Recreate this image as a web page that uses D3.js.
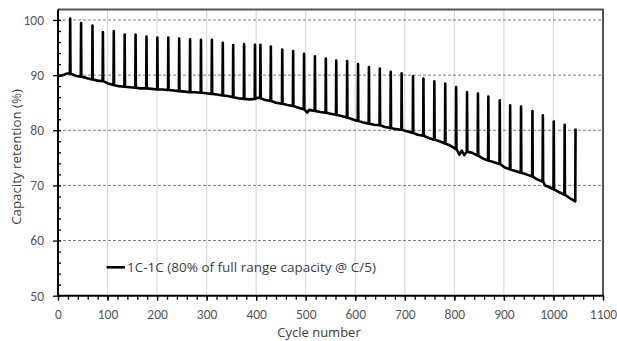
<!DOCTYPE html>
<html>
<head>
<meta charset="utf-8">
<script src="https://cdn.jsdelivr.net/npm/d3@7"></script>
<style>
  body { margin: 0; background: #fff; }
  svg { display: block; font-family: Carlito, Lato, sans-serif; }
</style>
</head>
<body>
<svg id="chart" width="617" height="341"></svg>
<script>
// tick labels
var xTicks = [0, 100, 200, 300, 400, 500, 600, 700, 800, 900, 1000, 1100];
var yTicks = [50, 60, 70, 80, 90, 100];

// baseline capacity retention read between check-up cycles
var baseCycle = [0, 10, 18, 24, 35, 46, 57, 69, 80, 90, 101, 112, 123, 134, 145, 156, 167, 178, 189, 200,
  211, 222, 233, 244, 255, 266, 277, 288, 299, 310, 321, 332, 343, 353, 364, 375, 386, 397, 402, 408,
  418, 429, 440, 452, 463, 474, 485, 496, 503, 507, 518, 529, 540, 550, 561, 572, 583, 594, 605, 616,
  627, 638, 649, 660, 671, 682, 693, 704, 716, 726, 737, 748, 759, 770, 781, 792, 803, 810, 815, 820,
  825, 836, 847, 857, 868, 880, 891, 901, 912, 923, 934, 945, 957, 967, 978, 983, 989, 1000, 1011, 1022,
  1033, 1044];
var baseValue = [89.8, 90.0, 90.3, 90.3, 89.9, 89.7, 89.5, 89.2, 89.0, 88.9, 88.5, 88.2, 88.0, 87.9, 87.8, 87.7, 87.6, 87.6, 87.5, 87.4,
  87.4, 87.3, 87.2, 87.1, 87.0, 86.9, 86.9, 86.8, 86.7, 86.6, 86.5, 86.3, 86.2, 86.0, 85.8, 85.7, 85.6, 85.7, 85.9, 85.8,
  85.5, 85.3, 85.0, 84.8, 84.6, 84.4, 84.1, 83.8, 83.2, 83.7, 83.5, 83.3, 83.2, 83.0, 82.8, 82.6, 82.3, 82.0, 81.7, 81.4,
  81.2, 81.0, 80.9, 80.6, 80.4, 80.2, 80.1, 79.8, 79.5, 79.2, 79.0, 78.6, 78.3, 78.0, 77.6, 77.2, 76.6, 75.6, 76.3, 75.5,
  76.1, 75.9, 75.4, 74.9, 74.5, 74.2, 73.9, 73.3, 72.9, 72.6, 72.3, 72.0, 71.6, 71.1, 70.7, 70.0, 69.8, 69.3, 68.8, 68.3,
  67.7, 67.1];

// check-up cycles (full range capacity @ C/5)
var spikeCycle = [24, 46, 69, 90, 112, 134, 156, 178, 200, 222, 244, 266, 288, 310, 332, 353, 375, 397, 408, 429,
  452, 474, 496, 518, 540, 561, 583, 605, 627, 649, 671, 693, 716, 737, 759, 781, 803, 825, 847, 868,
  891, 912, 934, 957, 978, 1000, 1022, 1044];
var spikeTop = [100.25, 99.45, 99.0, 97.8, 98.0, 97.35, 97.35, 97.0, 96.8, 96.8, 96.65, 96.5, 96.4, 96.4, 95.85, 95.45, 95.65, 95.5, 95.5, 95.2,
  94.65, 94.35, 93.85, 93.4, 93.0, 92.65, 92.55, 92.0, 91.45, 91.2, 90.6, 90.35, 89.8, 89.4, 88.9, 88.45, 87.85, 86.95, 86.65, 86.1,
  85.45, 84.55, 84.3, 83.5, 82.7, 81.6, 81.0, 80.3];

var seriesName = "1C-1C (80% of full range capacity @ C/5)";

var svg = d3.select("#chart");
var x = d3.scaleLinear().domain([0, 1100]).range([58, 603]);
var y = d3.scaleLinear().domain([50, 101.9]).range([295.7, 9.5]);

// build the line: baseline points with the check-up spikes inserted
var pts = [];
baseCycle.forEach(function (c, i) {
  pts.push([c, baseValue[i]]);
  var s = spikeCycle.indexOf(c);
  if (s >= 0) {
    pts.push([c + 0.6, spikeTop[s]]);
    if (s < spikeCycle.length - 1) pts.push([c + 1.2, baseValue[i]]);
  }
});

// vertical gridlines
svg.append("g").selectAll("line")
  .data(xTicks.slice(1, -1))
  .enter().append("line")
  .attr("x1", d => x(d)).attr("x2", d => x(d))
  .attr("y1", y(101.9)).attr("y2", y(50))
  .attr("stroke", "#d9d9d9").attr("stroke-width", 1.2);

// horizontal dashed gridlines
svg.append("g").selectAll("line")
  .data(yTicks.slice(1))
  .enter().append("line")
  .attr("x1", x(0)).attr("x2", x(1100))
  .attr("y1", d => y(d)).attr("y2", d => y(d))
  .attr("stroke", "#7f7f7f").attr("stroke-width", 1)
  .attr("stroke-dasharray", "3,2");

// frame top / right
svg.append("path")
  .attr("d", "M" + x(0) + "," + y(101.9) + "H" + x(1100) + "V" + y(50))
  .attr("fill", "none").attr("stroke", "#555").attr("stroke-width", 2);

// series
var line = d3.line().x(d => x(d[0])).y(d => y(d[1]));
svg.append("path")
  .datum(pts)
  .attr("d", line)
  .attr("fill", "none")
  .attr("stroke", "#000")
  .attr("stroke-width", 2.6)
  .attr("stroke-linejoin", "round");

// axes
var fmt = d3.format("d");
var gx = svg.append("g").attr("transform", "translate(0," + y(50) + ")")
  .call(d3.axisBottom(x).tickValues(xTicks).tickFormat(fmt).tickSize(5).tickSizeOuter(0).tickPadding(9));
var gxm = svg.append("g").attr("transform", "translate(0," + y(50) + ")")
  .call(d3.axisBottom(x).tickValues(d3.range(0, 1101, 20)).tickSize(4).tickFormat(""));
var gy = svg.append("g").attr("transform", "translate(" + x(0) + ",0)")
  .call(d3.axisLeft(y).tickValues(yTicks).tickFormat(fmt).tickSize(5).tickSizeOuter(0).tickPadding(9));
var gym = svg.append("g").attr("transform", "translate(" + x(0) + ",0)")
  .call(d3.axisRight(y).tickValues(d3.range(50, 101, 2)).tickSize(3).tickFormat(""));

[gx, gxm, gy, gym].forEach(function (g) {
  g.select(".domain").remove();
  g.selectAll(".tick line").attr("stroke", "#000").attr("stroke-width", 1.3);
  g.selectAll("text").attr("fill", "#595959").attr("font-size", 13.5).attr("font-family", "Carlito, Lato, sans-serif");
});

// axis lines
svg.append("line").attr("x1", x(0)).attr("x2", x(0)).attr("y1", y(101.9)).attr("y2", y(50))
  .attr("stroke", "#000").attr("stroke-width", 2);
svg.append("line").attr("x1", x(0) - 1).attr("x2", x(1100) + 1).attr("y1", y(50)).attr("y2", y(50))
  .attr("stroke", "#000").attr("stroke-width", 2);

// axis titles
svg.append("text").attr("x", 319).attr("y", 337)
  .attr("text-anchor", "middle").attr("fill", "#404040")
  .attr("font-family", "'Open Sans', sans-serif").attr("font-size", 13)
  .text("Cycle number");
svg.append("text").attr("transform", "translate(21,157) rotate(-90)")
  .attr("text-anchor", "middle").attr("fill", "#404040")
  .attr("font-family", "'Open Sans', sans-serif").attr("font-size", 13.3)
  .text("Capacity retention (%)");

// legend
svg.append("line").attr("x1", 106.5).attr("x2", 125).attr("y1", 267.3).attr("y2", 267.3)
  .attr("stroke", "#000").attr("stroke-width", 2.6);
svg.append("text").attr("x", 127).attr("y", 272)
  .attr("fill", "#404040")
  .attr("font-family", "'Open Sans', sans-serif").attr("font-size", 13.5)
  .text(seriesName);
</script>
</body>
</html>
